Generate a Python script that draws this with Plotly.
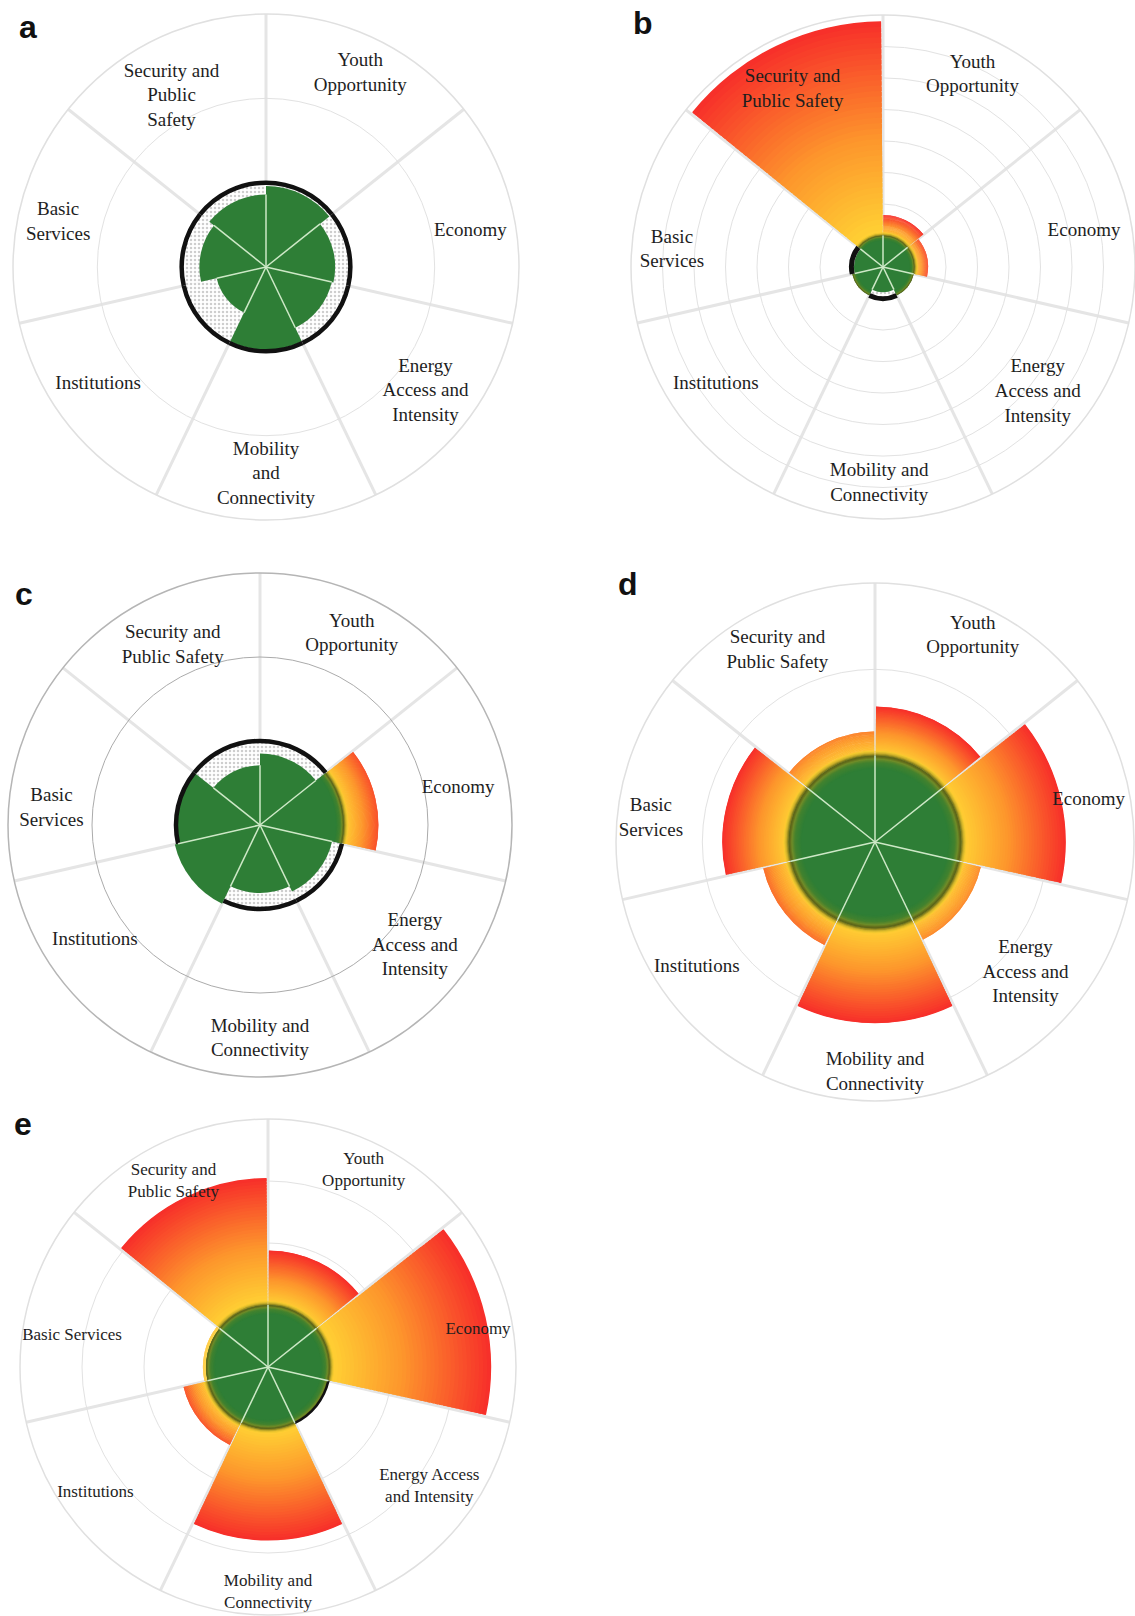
import numpy as np
import plotly.graph_objects as go

W, H = 1135, 1616

SECTORS = ["Youth Opportunity", "Economy", "Energy Access and Intensity",
           "Mobility and Connectivity", "Institutions", "Basic Services",
           "Security and Public Safety"]

# Attainment of each dimension relative to its threshold (1 = threshold)
core_a = [0.96, 0.82, 0.80, 0.98, 0.60, 0.79, 0.86]
core_b = [1.00, 1.00, 1.00, 0.80, 1.00, 0.92, 1.00]
core_c = [0.85, 1.00, 0.88, 0.81, 1.04, 1.00, 0.71]
core_d = [1.00, 1.00, 1.00, 1.00, 1.00, 1.00, 1.00]
core_e = [1.00, 1.00, 1.00, 1.00, 1.00, 1.00, 1.00]

# Overshoot beyond the threshold (values above 1)
over_a = [1.00, 1.00, 1.00, 1.00, 1.00, 1.00, 1.00]
over_b = [1.65, 1.43, 1.00, 1.00, 1.00, 1.00, 7.80]
over_c = [1.00, 1.41, 1.00, 1.00, 1.00, 1.00, 1.00]
over_d = [1.57, 2.21, 1.26, 2.10, 1.33, 1.77, 1.28]
over_e = [1.88, 3.60, 1.00, 2.80, 1.40, 1.05, 3.05]

labels_a = ["Youth<br>Opportunity", "Economy", "Energy<br>Access and<br>Intensity",
            "Mobility<br>and<br>Connectivity", "Institutions", "Basic<br>Services",
            "Security and<br>Public<br>Safety"]
labels_bcd = ["Youth<br>Opportunity", "Economy", "Energy<br>Access and<br>Intensity",
              "Mobility and<br>Connectivity", "Institutions", "Basic<br>Services",
              "Security and<br>Public Safety"]
labels_e = ["Youth<br>Opportunity", "Economy", "Energy Access<br>and Intensity",
            "Mobility and<br>Connectivity", "Institutions", "Basic Services",
            "Security and<br>Public Safety"]

SPAN = 360 / 7
MID = [SPAN * (i + 0.5) for i in range(7)]
EDGES = [SPAN * i for i in range(7)]

GREEN = (46, 126, 54)
OVER_STOPS = [(0.0, (255, 210, 52)), (0.45, (253, 150, 44)), (1.0, (247, 46, 42))]
OVER_FULL = 0.5   # overshoot length over which the shading reaches full red
INNER_STOPS = [(0.0, GREEN), (0.5, (66, 130, 46)), (0.75, (112, 140, 40)),
               (0.9, (98, 106, 26)), (1.0, (92, 100, 24))]
OUTER_STOPS = [(0.0, (92, 100, 24)), (0.5, (200, 175, 42)), (1.0, (255, 208, 50))]


def mix(stops, t):
    t = min(max(t, 0.0), 1.0)
    for (p0, c0), (p1, c1) in zip(stops[:-1], stops[1:]):
        if t <= p1:
            f = 0 if p1 == p0 else (t - p0) / (p1 - p0)
            c = [round(a + (b - a) * f) for a, b in zip(c0, c1)]
            return "rgb(%d,%d,%d)" % tuple(c)
    return "rgb(%d,%d,%d)" % stops[-1][1]


panels = [
    dict(key="polar", letter="a", core=core_a, over=over_a, labels=labels_a,
         cx=266, cy=267, R=253, rmax=3, dots=True, ring="#e2e2e2", line="#e0e0e0",
         glow=[0] * 7, black=[1] * 7, black_px=4.5, glow_in=0, glow_out=0,
         font=19, lab_t=[26, 80, 128, 180, 235, 282, 331],
         lab_f=[0.85, 0.82, 0.80, 0.82, 0.81, 0.84, 0.77],
         letter_xy=(17, 27)),
    dict(key="polar2", letter="b", core=core_b, over=over_b, labels=labels_bcd,
         cx=883, cy=267, R=252, rmax=8, dots=True, ring="#e2e2e2", line="#e0e0e0",
         glow=[1, 1, 1, 0, 1, 0, 1], black=[0, 0, 0, 1, 0, 1, 0], black_px=5,
         glow_in=5, glow_out=3, font=19,
         lab_t=[25, 80, 129, 181, 235, 274.5, 333],
         lab_f=[0.84, 0.81, 0.79, 0.86, 0.81, 0.84, 0.79],
         letter_xy=(631, 23)),
    dict(key="polar3", letter="c", core=core_c, over=over_c, labels=labels_bcd,
         cx=260, cy=825, R=252, rmax=3, dots=True, ring="#ababab", line="#b5b5b5",
         glow=[0, 1, 0, 0, 0, 0, 0], black=[1, 0, 1, 1, 0, 1, 1], black_px=4.5,
         glow_in=8, glow_out=4, font=19,
         lab_t=[25.7, 79.4, 128, 180, 235, 274.5, 334],
         lab_f=[0.84, 0.80, 0.78, 0.85, 0.80, 0.83, 0.79],
         letter_xy=(13, 594)),
    dict(key="polar4", letter="d", core=core_d, over=over_d, labels=labels_bcd,
         cx=875, cy=842, R=259, rmax=3, dots=False, ring="#e2e2e2", line="#e0e0e0",
         glow=[1] * 7, black=[0] * 7, black_px=0, glow_in=13, glow_out=5, font=19,
         lab_t=[25.4, 79, 131, 180, 235, 276, 333],
         lab_f=[0.88, 0.84, 0.77, 0.89, 0.84, 0.87, 0.83],
         letter_xy=(616, 584)),
    dict(key="polar5", letter="e", core=core_e, over=over_e, labels=labels_e,
         cx=268, cy=1367, R=248, rmax=4, dots=False, ring="#e2e2e2", line="#e0e0e0",
         glow=[1] * 7, black=[0, 0, 1, 0, 0, 0, 0], black_px=2.5,
         glow_in=9, glow_out=4, font=17,
         lab_t=[26, 80, 126.6, 180, 234, 279, 333],
         lab_f=[0.88, 0.86, 0.81, 0.91, 0.86, 0.80, 0.84],
         letter_xy=(12, 1124)),
]

fig = go.Figure()
GAP = 0.9
STEPS = 40

for p in panels:
    sub = p["key"]
    unit = p["R"] / p["rmax"]
    core, over = p["core"], p["over"]

    # stippled space between attainment and threshold
    if p["dots"]:
        fig.add_trace(go.Barpolar(
            r=[1] * 7, theta=MID, width=[SPAN] * 7, subplot=sub, hoverinfo="skip",
            marker=dict(color="white", line=dict(width=0),
                        pattern=dict(shape=".", fgcolor="#9c9c9c", bgcolor="white",
                                     size=4, solidity=0.3))))

    # overshoot wedges, shaded yellow -> orange -> red along their length
    for k in range(STEPS):
        bases, rs, cols = [], [], []
        for v in over:
            if v > 1:
                step = (v - 1) / STEPS
                b = 1 + step * k
                bases.append(b)
                rs.append(min(step * 1.8, v - b))
                t = (b + step / 2 - 1) / max(v - 1, OVER_FULL)
            else:
                bases.append(1)
                rs.append(0)
                t = 0
            cols.append(mix(OVER_STOPS, t))
        fig.add_trace(go.Barpolar(
            base=bases, r=rs, theta=MID, width=[SPAN - GAP] * 7, subplot=sub,
            hoverinfo="skip", marker=dict(color=cols, line=dict(width=0))))

    # green attainment wedges
    fig.add_trace(go.Barpolar(
        r=core, theta=MID, width=[SPAN] * 7, subplot=sub, hoverinfo="skip",
        marker=dict(color="rgb(%d,%d,%d)" % GREEN, line=dict(width=0))))

    # soft olive rim at the threshold
    if p["glow_in"] > 0:
        span_in = p["glow_in"] / unit
        n = 14
        for k in range(n):
            bases, rs, cols = [], [], []
            for c, g in zip(core, p["glow"]):
                lo = c - span_in
                b = lo + span_in * k / n
                bases.append(b)
                rs.append(min(span_in / n * 1.8, c - b) if g else 0)
                cols.append(mix(INNER_STOPS, (k + 0.5) / n))
            fig.add_trace(go.Barpolar(
                base=bases, r=rs, theta=MID, width=[SPAN - GAP] * 7, subplot=sub,
                hoverinfo="skip", marker=dict(color=cols, line=dict(width=0))))
        span_out = p["glow_out"] / unit
        for k in range(n):
            bases, rs, cols = [], [], []
            for c, v, g in zip(core, over, p["glow"]):
                on = g and v > 1 + span_out
                b = 1 + span_out * k / n
                bases.append(b)
                rs.append(min(span_out / n * 1.8, 1 + span_out - b) if on else 0)
                cols.append(mix(OUTER_STOPS, (k + 0.5) / n))
            fig.add_trace(go.Barpolar(
                base=bases, r=rs, theta=MID, width=[SPAN - GAP] * 7, subplot=sub,
                hoverinfo="skip", marker=dict(color=cols, line=dict(width=0))))

    # threshold line
    if any(p["black"]):
        th = p["black_px"] / unit
        fig.add_trace(go.Barpolar(
            base=[1 - th / 2] * 7, r=[th if b else 0 for b in p["black"]],
            theta=MID, width=[SPAN] * 7, subplot=sub, hoverinfo="skip",
            marker=dict(color="#111111", line=dict(width=0))))

    # light sector dividers through the green wedges
    rr, tt = [], []
    for i in range(7):
        m = min(core[i - 1], core[i])
        rr += [0, m, None]
        tt += [EDGES[i], EDGES[i], None]
    fig.add_trace(go.Scatterpolar(
        r=rr, theta=tt, mode="lines", subplot=sub, hoverinfo="skip",
        line=dict(color="#cde8c6", width=1.5)))

    # dimension labels
    fig.add_trace(go.Scatterpolar(
        r=[f * p["rmax"] for f in p["lab_f"]], theta=p["lab_t"], mode="text",
        text=p["labels"], textposition="middle center", subplot=sub,
        hoverinfo="skip",
        textfont=dict(family="Liberation Serif", size=p["font"], color="#1e1e1e")))

    cx, cy, R = p["cx"], p["cy"], p["R"]
    dom = dict(x=[max(0, (cx - R) / W), min(1, (cx + R) / W)],
               y=[max(0, 1 - (cy + R) / H), min(1, 1 - (cy - R) / H)])
    fig.update_layout(**{sub: dict(
        domain=dom, bgcolor="white", barmode="overlay", hole=0,
        angularaxis=dict(rotation=90, direction="clockwise", tickmode="array",
                         tickvals=EDGES, showticklabels=False, ticks="",
                         showgrid=True, gridcolor="#e5e5e5", gridwidth=3,
                         showline=True, linecolor=p["line"], linewidth=1.5),
        radialaxis=dict(range=[0, p["rmax"]], tickmode="array",
                        tickvals=list(range(1, p["rmax"] + 1)),
                        showticklabels=False, ticks="", showline=False,
                        showgrid=True, gridcolor=p["ring"], gridwidth=1.3),
    )})

    lx, ly = p["letter_xy"]
    fig.add_annotation(x=lx / W, y=1 - ly / H, xref="paper", yref="paper",
                       text="<b>%s</b>" % p["letter"], showarrow=False,
                       xanchor="left", yanchor="middle",
                       font=dict(family="Liberation Sans", size=32, color="#111111"))

fig.update_layout(width=W, height=H, margin=dict(l=0, r=0, t=0, b=0),
                  paper_bgcolor="white", plot_bgcolor="white", showlegend=False)

fig.write_html("out.html")
